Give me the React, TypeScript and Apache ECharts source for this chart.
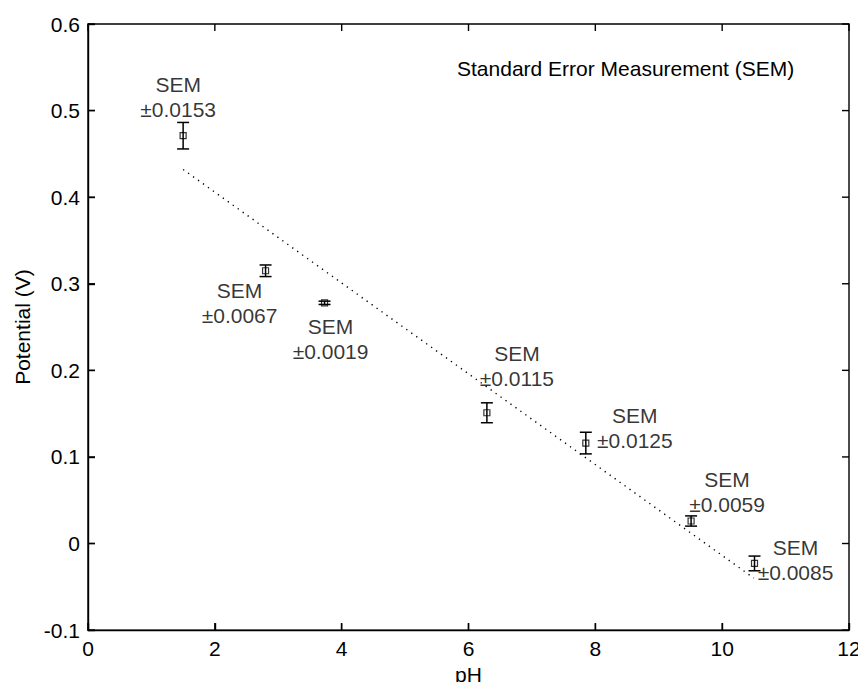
import React, { useEffect, useRef } from "react";
import * as echarts from "echarts";

// ---- data ----
const PH = [1.5, 2.8, 3.73, 6.29, 7.85, 9.51, 10.51];
const POTENTIAL = [0.471, 0.315, 0.278, 0.151, 0.116, 0.026, -0.023];
const SEM = [0.0153, 0.0067, 0.0019, 0.0115, 0.0125, 0.0059, 0.0085];
const FIT_PH = [1.5, 10.5];
const FIT_POTENTIAL = [0.432, -0.04];
const X_TICKS = [0, 2, 4, 6, 8, 10, 12];
const Y_TICKS = [-0.1, 0, 0.1, 0.2, 0.3, 0.4, 0.5, 0.6];
const X_MIN = 0;
const X_MAX = 12;
const X_STEP = 2;
const Y_MIN = -0.1;
const Y_MAX = 0.6;
const Y_STEP = 0.1;
const X_NAME = "pH";
const Y_NAME = "Potential (V)";
const NOTE = "Standard Error Measurement (SEM)";

// label offsets (pixels, relative to each marker) — layout only
const LABEL_OFFSETS: [number, number][] = [
  [-5, -39],
  [-26, 32],
  [6, 36],
  [30, -47],
  [49, -15],
  [36, -29],
  [41, -3],
];

const FONT = "'Liberation Sans', Arial, Helvetica, sans-serif";
const FS = 21;
const INK = "#000";
const LW = 1.4;
const TICK = 7;

function baseAxis(pos: string, min: number, max: number, step: number) {
  return {
    type: "value",
    show: true,
    position: pos,
    min,
    max,
    interval: step,
    axisLine: { show: true, onZero: false, lineStyle: { color: "#000", width: LW } },
    axisTick: { show: true, inside: true, length: TICK, lineStyle: { color: "#000", width: LW } },
    splitLine: { show: false },
  };
}

export default function App() {
  const ref = useRef<HTMLDivElement>(null);
  useEffect(() => {
    if (!ref.current) return;
    const chart = echarts.init(ref.current, undefined, { renderer: "svg" });

    const points = PH.map((x, i) => [x, POTENTIAL[i], SEM[i]]);
    const fit = FIT_PH.map((x, i) => [x, FIT_POTENTIAL[i]]);

    chart.setOption({
      animation: false,
      backgroundColor: "#fff",
      grid: { left: 88, top: 24, right: 17, bottom: 59 },
      xAxis: [
        {
          ...baseAxis("bottom", X_MIN, X_MAX, X_STEP),
          name: X_NAME,
          nameLocation: "middle",
          nameGap: 33,
          nameTextStyle: { fontSize: FS, color: INK, fontFamily: FONT },
          axisLabel: { fontSize: FS, color: INK, margin: 8, fontFamily: FONT },
        },
      ],
      yAxis: [
        {
          ...baseAxis("left", Y_MIN, Y_MAX, Y_STEP),
          name: Y_NAME,
          nameLocation: "middle",
          nameGap: 55,
          nameTextStyle: { fontSize: FS, color: INK, fontFamily: FONT },
          axisLabel: {
            fontSize: FS,
            color: INK,
            margin: 8,
            fontFamily: FONT,
            formatter: (v: number) => {
              const r = Math.round(v * 10) / 10;
              return r === 0 ? "0" : String(r);
            },
          },
        },
      ],
      series: [
        {
          type: "line",
          data: fit,
          showSymbol: false,
          symbol: "none",
          clip: false,
          lineStyle: { color: "#000", width: 1.4, type: [1.3, 4.8] },
          z: 1,
        },
        {
          type: "custom",
          data: points,
          z: 2,
          renderItem: (params: any, api: any) => {
            const x = api.value(0);
            const y = api.value(1);
            const e = api.value(2);
            const top = api.coord([x, y + e]);
            const bot = api.coord([x, y - e]);
            const hw = 6;
            const st = { stroke: "#000", lineWidth: 1.5 };
            return {
              type: "group",
              children: [
                { type: "line", shape: { x1: top[0], y1: top[1], x2: bot[0], y2: bot[1] }, style: st },
                { type: "line", shape: { x1: top[0] - hw, y1: top[1], x2: top[0] + hw, y2: top[1] }, style: st },
                { type: "line", shape: { x1: bot[0] - hw, y1: bot[1], x2: bot[0] + hw, y2: bot[1] }, style: st },
              ],
            };
          },
        },
        {
          type: "scatter",
          z: 3,
          symbol: "rect",
          symbolSize: 6,
          itemStyle: { color: "rgba(0,0,0,0)", borderColor: "#000", borderWidth: 1.2 },
          data: points.map((p, i) => ({
            value: p,
            label: {
              show: true,
              position: "inside",
              offset: LABEL_OFFSETS[i],
              align: "center",
              verticalAlign: "middle",
              formatter: "SEM\n±" + SEM[i].toFixed(4),
              fontSize: FS,
              lineHeight: 25,
              color: INK,
              fontFamily: FONT,
            },
          })),
        },
      ],
    });

    // frame + inward ticks on all four sides, positioned through the chart's own scales
    const graphics: any[] = [
      {
        type: "text",
        id: "note",
        left: 457,
        top: 58,
        style: { text: NOTE, fontSize: FS, fill: INK, fontFamily: FONT },
      },
    ];
    try {
      const lo = chart.convertToPixel({ gridIndex: 0 } as any, [X_MIN, Y_MIN]) as any;
      const hi = chart.convertToPixel({ gridIndex: 0 } as any, [X_MAX, Y_MAX]) as any;
      if (lo && hi) {
        const st = { stroke: "#000", lineWidth: LW, fill: null };
        graphics.push({
          type: "rect",
          id: "frame",
          z: 100,
          silent: true,
          shape: { x: lo[0], y: hi[1], width: hi[0] - lo[0], height: lo[1] - hi[1] },
          style: st,
        });
        X_TICKS.forEach((t, i) => {
          const p = chart.convertToPixel({ gridIndex: 0 } as any, [t, Y_MIN]) as any;
          const px = p[0];
          graphics.push({ type: "line", id: "xb" + i, z: 100, silent: true, shape: { x1: px, y1: lo[1], x2: px, y2: lo[1] - TICK }, style: st });
          graphics.push({ type: "line", id: "xt" + i, z: 100, silent: true, shape: { x1: px, y1: hi[1], x2: px, y2: hi[1] + TICK }, style: st });
        });
        Y_TICKS.forEach((t, i) => {
          const p = chart.convertToPixel({ gridIndex: 0 } as any, [X_MIN, t]) as any;
          const py = p[1];
          graphics.push({ type: "line", id: "yl" + i, z: 100, silent: true, shape: { x1: lo[0], y1: py, x2: lo[0] + TICK, y2: py }, style: st });
          graphics.push({ type: "line", id: "yr" + i, z: 100, silent: true, shape: { x1: hi[0], y1: py, x2: hi[0] - TICK, y2: py }, style: st });
        });
      }
    } catch (e) {
      // keep chart even if conversion fails
    }
    chart.setOption({ graphic: graphics });

    return () => chart.dispose();
  }, []);
  return <div ref={ref} style={{ width: 866, height: 690, margin: -8 }} />;
}
